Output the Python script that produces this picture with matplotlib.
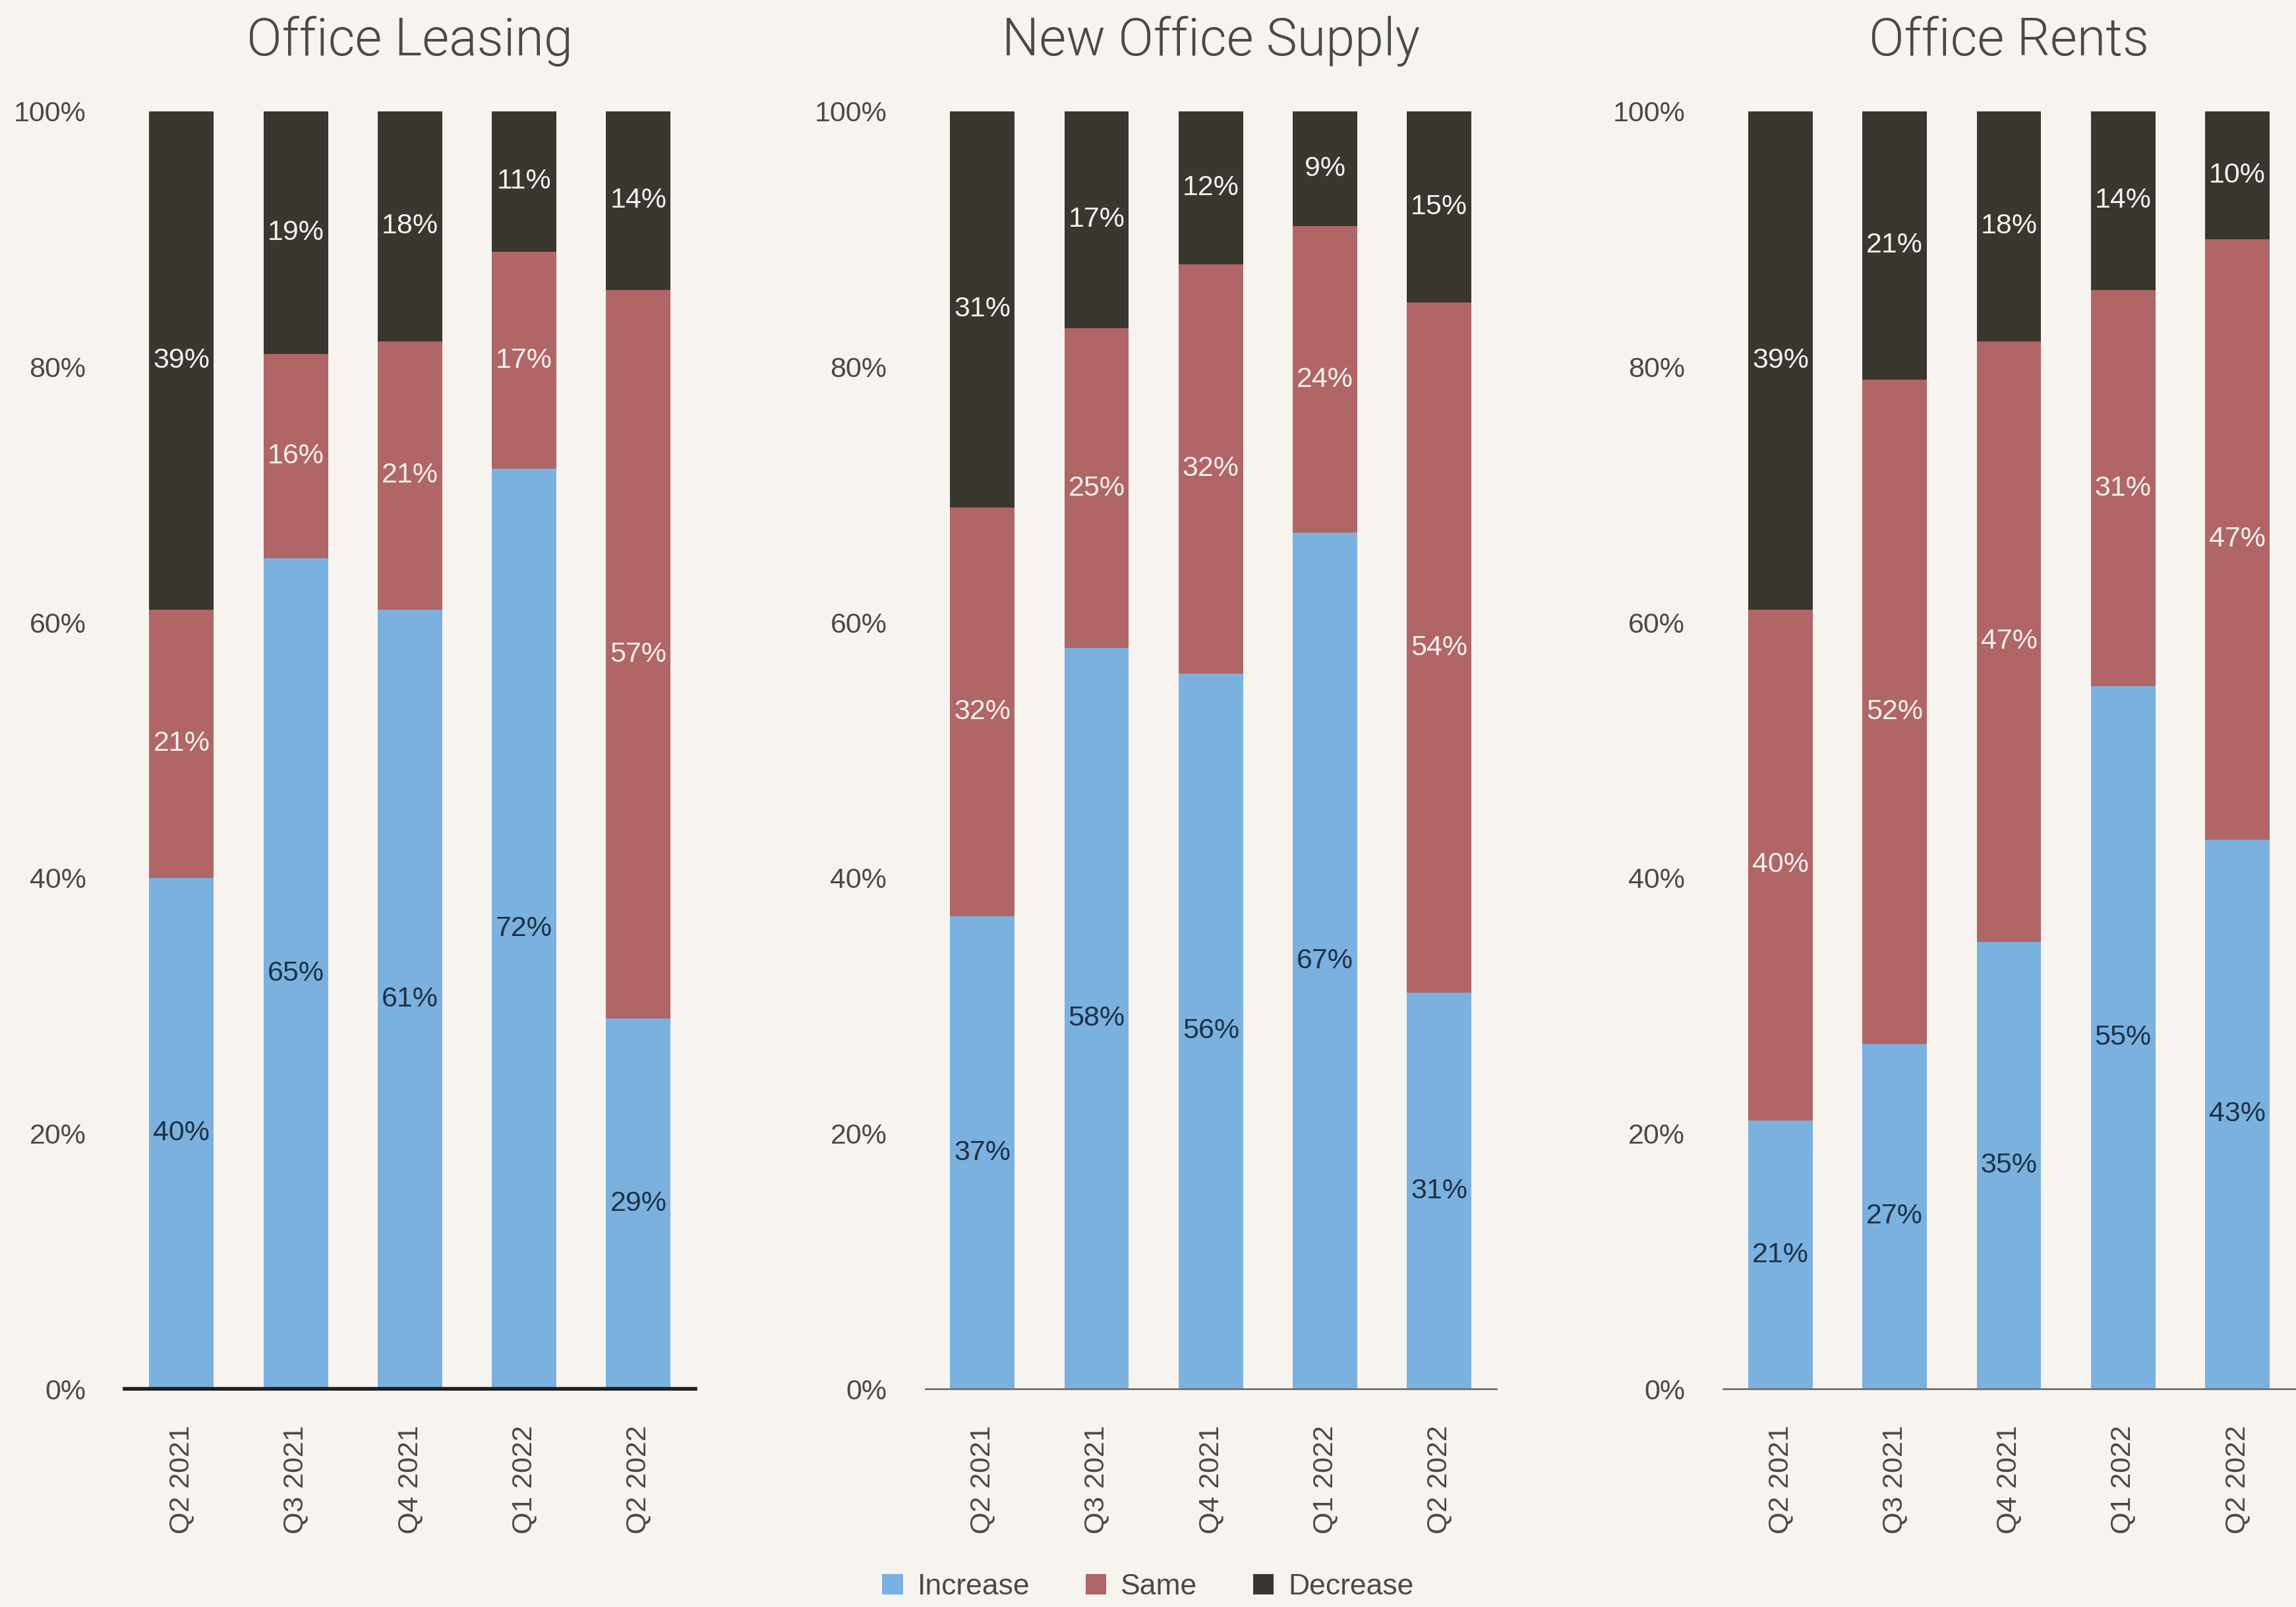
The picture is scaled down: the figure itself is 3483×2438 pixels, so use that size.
"""Office market sentiment survey: stacked 100% bars for leasing, supply and rents."""
import matplotlib.pyplot as plt
from matplotlib.patches import Patch
import numpy as np

plt.rcParams["font.family"] = ["Liberation Sans", "DejaVu Sans"]

quarters = ["Q2 2021", "Q3 2021", "Q4 2021", "Q1 2022", "Q2 2022"]
panel_titles = ["Office Leasing", "New Office Supply", "Office Rents"]

# share of respondents (%) per quarter
leasing_increase = [40, 65, 61, 72, 29]
leasing_same = [21, 16, 21, 17, 57]
leasing_decrease = [39, 19, 18, 11, 14]

supply_increase = [37, 58, 56, 67, 31]
supply_same = [32, 25, 32, 24, 54]
supply_decrease = [31, 17, 12, 9, 15]

rents_increase = [21, 27, 35, 55, 43]
rents_same = [40, 52, 47, 31, 47]
rents_decrease = [39, 21, 18, 14, 10]

series_names = ["Increase", "Same", "Decrease"]
panels = [
    (leasing_increase, leasing_same, leasing_decrease),
    (supply_increase, supply_same, supply_decrease),
    (rents_increase, rents_same, rents_decrease),
]

BG = "#f7f4f0"
colors = ["#7bb1df", "#b06666", "#3a3630"]
label_colors = ["#1e3247", "#f6eeee", "#f4f2ee"]

fig = plt.figure(figsize=(34.83, 24.38), dpi=100, facecolor=BG)

lefts = [0.0542, 0.403, 0.7506]
width, bottom, height = 0.2487, 0.1357, 0.7951
x = np.arange(len(quarters))

for i, (title, stacks) in enumerate(zip(panel_titles, panels)):
    ax = fig.add_axes([lefts[i], bottom, width, height])
    ax.set_facecolor(BG)
    base = np.zeros(len(quarters))
    for vals, col, lcol in zip(stacks, colors, label_colors):
        vals = np.array(vals, dtype=float)
        bars = ax.bar(x, vals, bottom=base, width=0.565, color=col, linewidth=0)
        ax.bar_label(bars, labels=[f"{v:.0f}%" for v in vals],
                     label_type="center", color=lcol, fontsize=31)
        base += vals

    ax.set_xlim(-0.5, 4.5)
    ax.set_ylim(0, 100)
    ax.set_yticks(range(0, 101, 20))
    ax.set_yticklabels([f"{v}%" for v in range(0, 101, 20)])
    ax.set_xticks(x)
    ax.set_xticklabels(quarters, rotation=90)
    ax.tick_params(axis="y", length=0, pad=42, labelsize=31, labelcolor="#4a4a4a")
    ax.tick_params(axis="x", length=0, pad=40, labelsize=31, labelcolor="#4a4a4a")
    for side in ["top", "right", "left"]:
        ax.spines[side].set_visible(False)
    if i == 0:
        ax.spines["bottom"].set_color("#1e1e1e")
        ax.spines["bottom"].set_linewidth(4)
    else:
        ax.spines["bottom"].set_color("#707070")
        ax.spines["bottom"].set_linewidth(2)

    fig.text(lefts[i] + width / 2, 0.9745, title, ha="center", va="center",
             fontsize=57, color="#4a4a4a", family=["Roboto", "Liberation Sans"],
             fontweight=300)

handles = [Patch(facecolor=c, edgecolor="none", label=n) for c, n in zip(colors, series_names)]
fig.legend(handles=handles, loc="center", bbox_to_anchor=(0.5, 0.0125), ncol=3,
           frameon=False, fontsize=32, handlelength=0.7, handleheight=0.7,
           handletextpad=0.5, columnspacing=1.9, labelcolor="#4a4a4a")

fig.savefig("out.png", dpi=100, facecolor=BG)
